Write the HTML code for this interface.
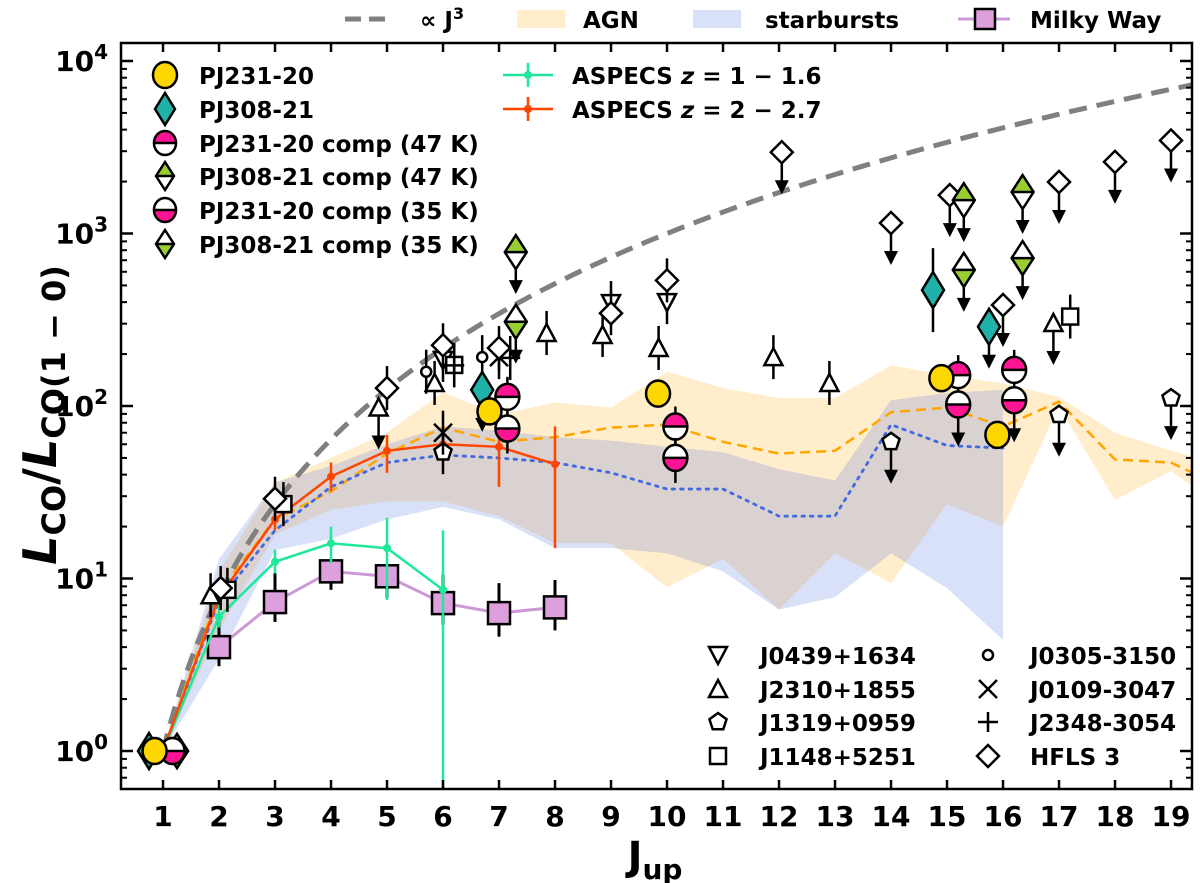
<!DOCTYPE html>
<html><head><meta charset="utf-8"><style>
body{margin:0;background:#fff}
svg{display:block;font-family:"DejaVu Sans","Liberation Sans",sans-serif;font-weight:bold}
</style></head><body>
<svg id="chart" width="1200" height="883" viewBox="0 0 1200 883" xmlns="http://www.w3.org/2000/svg">
<defs><clipPath id="pc"><rect x="121" y="43" width="1071" height="746"/></clipPath></defs>
<g id="plot" clip-path="url(#pc)"></g>
<g id="axes"></g>
<g id="legend"></g>
</svg>
<script>
// ---- data ----
const agnJ=[1,2,3,4,5,6,7,8,9,10,11,12,13,14,15,16,17,18,19,20];
const agnMed=[1,8.3,22,32,53,75,62,66,75,78,62,53,55,92,98,76,106,49,47,33];
const agnHi=[1,11,36,50,70,120,89,105,98,158,127,111,111,172,151,135,113,70,55,45];
const agnLo=[1,5,18,25,28,28,23,16,16,8.9,13,6.6,14,9.4,27,20,99,28.5,42,25];
const sbJ=[1,2,3,4,5,6,7,8,9,10,11,12,13,14,15,16];
const sbMed=[1,7.5,19,34,47,52,50,47,41,33,33,23,23,78,59,57];
const sbHi=[1,13,36,45,60,76,72,66,63,58,54,43,37,108,119,124];
const sbLo=[1,3.4,14.6,17,22,26,22,15,15,14,11,6.6,7.8,14,8.8,4.4];
const mwJ=[2,3,4,5,6,7,8];
const mwV=[4.0,7.3,11,10.3,7.2,6.3,6.8];
const mwLo=[3.1,5.6,8.6,7.7,5.4,4.6,5.0];
const mwHi=[5.7,10.7,12.5,12,10.5,9.4,9.8];
const asp1J=[1,2,3,4,5,6];
const asp1V=[1,6.0,12.5,16,15,8.6];
const asp1Lo=[1,5.2,10.7,12.3,7.5,0.1];
const asp1Hi=[1,7,14.7,20,22.5,19];
const asp2J=[1,2,3,4,5,6,7,8];
const asp2V=[1,7.8,22,39,55,60,58,46];
const asp2Lo=[1,7,19,32,41,52,34,15];
const asp2Hi=[1,8.6,26,47,68,68,86,76];
const pj231J=[0.85,6.83,9.84,14.9,15.9];
const pj231V=[1,93,118,145,68];
const pj308J=[0.75,6.7,14.75,15.75];
const pj308V=[1,124,470,288];
const pj308Lim=[0,1,0,1];
const c47J=[1.17,7.15,10.15,15.2,16.2];
const c47V=[1,113,76,151,162];
const c35J=[1.17,7.15,10.15,15.2,16.2];
const c35V=[1,74,50,102,108];
const c35Lim=[0,0,0,1,1];
const g47J=[1.25,7.3,15.3,16.35];
const g47V=[1,780,1560,1740];
const g35J=[1.25,7.3,15.3,16.35];
const g35V=[1,308,615,720];
const j0439J=[6.0,9.0,10.0];
const j0439V=[185,395,400];
const j2310J=[1.85,4.85,5.85,7.85,8.85,9.85,11.9,12.9,16.9];
const j2310V=[8,98,136,265,258,217,192,136,303];
const j2310Lim=[0,1,0,0,0,0,0,0,1];
const j1319J=[6.0,14.0,17.0,19.0];
const j1319V=[54,62,89,111];
const j1319Lim=[0,1,1,1];
const j1148J=[2.15,3.15,6.2,17.2];
const j1148V=[8.6,27,173,330];
const j0305J=[5.7,6.7];
const j0305V=[158,192];
const j0109J=[6.0,7.0];
const j0109V=[70,192];
const j2348J=[6.2,7.2];
const j2348V=[172,190];
const hflsJ=[2.03,3.0,5.0,6.0,7.0,9.0,10.0,12.05,14.0,15.05,16.0,17.0,18.0,19.0];
const hflsV=[8.8,29,127,225,217,345,535,2960,1150,1670,385,1990,2600,3460];
const hflsLim=[0,0,0,0,0,0,0,1,1,1,1,1,1,1];
const xTicks=[1,2,3,4,5,6,7,8,9,10,11,12,13,14,15,16,17,18,19];
const yTickExp=[0,1,2,3,4];

// ---- scales ----
const X0=121,X1=1192,Y0=43,Y1=789;
function xs(j){return 163+(j-1)*56;}
function ys(v){return 751-172.5*Math.log10(v);}
const NS="http://www.w3.org/2000/svg";
function mk(tag,at,par){const e=document.createElementNS(NS,tag);for(const k in at)e.setAttribute(k,at[k]);par.appendChild(e);return e;}
const P=document.getElementById('plot'),A=document.getElementById('axes'),L=document.getElementById('legend');

function band(js,lo,hi,fill,name){
  let d='M'+js.map((j,i)=>xs(j)+','+ys(hi[i])).join('L');
  for(let i=js.length-1;i>=0;i--)d+='L'+xs(js[i])+','+ys(lo[i]);
  const e=mk('path',{d:d+'Z',fill:fill,'fill-opacity':0.2,stroke:'none'},P);
  
  
}
function line(js,vs,st,name,par){
  const e=mk('path',Object.assign({d:'M'+js.map((j,i)=>xs(j)+','+ys(vs[i])).join('L'),fill:'none'},st),par||P);
  
  
  return e;
}
band(agnJ,agnLo,agnHi,'#ffa500','agn-band');
band(sbJ,sbLo,sbHi,'#4169e1','starburst-band');
line(agnJ,agnMed,{stroke:'#ffa500','stroke-width':2.5,'stroke-dasharray':'10 6'},'agn-median');
line(sbJ,sbMed,{stroke:'#4169e1','stroke-width':2.8,'stroke-dasharray':'2.5 6','stroke-linecap':'round'},'starburst-median');
// J^3 curve
const cj=[];for(let j=1;j<=19.6;j+=0.1)cj.push(j);
line(cj,cj.map(j=>j*j*j),{stroke:'#808080','stroke-width':5,'stroke-dasharray':'18 10'},'j-cubed-line');

function errs(js,vs,lo,hi,col,w,name){
  js.forEach((j,i)=>{const e=mk('line',{x1:xs(j),x2:xs(j),y1:ys(hi[i]),y2:ys(lo[i]),stroke:col,'stroke-width':w},P);
  
  });
}
// Milky Way
line(mwJ,mwV,{stroke:'#cc99d6','stroke-width':3},'milky-way-line');
errs(mwJ,mwV,mwLo,mwHi,'#000',3,'milky-way');
mwJ.forEach((j,i)=>{const e=mk('rect',{x:xs(j)-11,y:ys(mwV[i])-11,width:22,height:22,fill:'#dda0dd',stroke:'#000','stroke-width':2.5},P);

});
// ASPECS
function aspecs(js,vs,lo,hi,col,name){
  line(js,vs,{stroke:col,'stroke-width':2.5},name+'-line');
  errs(js,vs,lo,hi,col,2.5,name);
  js.forEach((j,i)=>{const e=mk('circle',{cx:xs(j),cy:ys(vs[i]),r:4,fill:col},P);
  
  });
}
aspecs(asp1J,asp1V,asp1Lo,asp1Hi,'#1ee89a','aspecs-z1');
aspecs(asp2J,asp2V,asp2Lo,asp2Hi,'#ff4500','aspecs-z2');

// marker drawing
function arrow(x,y,par){
  mk('line',{x1:x,y1:y,x2:x,y2:y+38,stroke:'#000','stroke-width':2.5},par);
  mk('path',{d:`M${x-7},${y+28}L${x+7},${y+28}L${x},${y+42}Z`,fill:'#000'},par);
}
function glyph(type,x,y,par,s){
  s=s||1;const st={fill:'#fff',stroke:'#000','stroke-width':2.5};
  if(type==='tdown')mk('path',Object.assign({d:`M${x-9*s},${y-8*s}L${x+9*s},${y-8*s}L${x},${y+9*s}Z`},st),par);
  else if(type==='tup')mk('path',Object.assign({d:`M${x-9*s},${y+8*s}L${x+9*s},${y+8*s}L${x},${y-9*s}Z`},st),par);
  else if(type==='pent'){let d='';for(let k=0;k<5;k++){const a=-Math.PI/2+k*2*Math.PI/5;d+=(k?'L':'M')+(x+9*s*Math.cos(a))+','+(y+9*s*Math.sin(a));}mk('path',Object.assign({d:d+'Z'},st),par);}
  else if(type==='sq')mk('rect',Object.assign({x:x-8*s,y:y-8*s,width:16*s,height:16*s},st),par);
  else if(type==='circ')mk('circle',Object.assign({cx:x,cy:y,r:5*s},st),par);
  else if(type==='x'){mk('path',{d:`M${x-9*s},${y-9*s}L${x+9*s},${y+9*s}M${x-9*s},${y+9*s}L${x+9*s},${y-9*s}`,stroke:'#000','stroke-width':2.5},par);}
  else if(type==='plus'){mk('path',{d:`M${x-10*s},${y}L${x+10*s},${y}M${x},${y-10*s}L${x},${y+10*s}`,stroke:'#000','stroke-width':2.5},par);}
  else if(type==='dia')mk('path',Object.assign({d:`M${x},${y-11*s}L${x+11*s},${y}L${x},${y+11*s}L${x-11*s},${y}Z`},st),par);
}
function openSeries(js,vs,lims,type,name){
  js.forEach((j,i)=>{const g=mk('g',{},P);
    
    
    const x=xs(j),y=ys(vs[i]);
    if(lims&&lims[i])arrow(x,y,g);
    else mk('line',{x1:x,x2:x,y1:y-22,y2:y+22,stroke:'#000','stroke-width':2.5},g);
    glyph(type,x,y,g);});
}
openSeries(j0439J,j0439V,null,'tdown','j0439');
openSeries(j2310J,j2310V,j2310Lim,'tup','j2310');
openSeries(j1319J,j1319V,j1319Lim,'pent','j1319');
openSeries(j1148J,j1148V,null,'sq','j1148');
openSeries(j0305J,j0305V,null,'circ','j0305');
openSeries(j0109J,j0109V,null,'x','j0109');
openSeries(j2348J,j2348V,null,'plus','j2348');
openSeries(hflsJ,hflsV,hflsLim,'dia','hfls3');

function halfCircle(x,y,top,par,r){
  r=r||13;
  mk('ellipse',{cx:x,cy:y,rx:r*0.92,ry:r,fill:'#fff'},par);
  mk('path',{d:top?`M${x-r*0.92},${y}A${r*0.92},${r} 0 0 1 ${x+r*0.92},${y}Z`:`M${x-r*0.92},${y}A${r*0.92},${r} 0 0 0 ${x+r*0.92},${y}Z`,fill:'#ff1493'},par);
  mk('ellipse',{cx:x,cy:y,rx:r*0.92,ry:r,fill:'none',stroke:'#000','stroke-width':2.5},par);
  mk('line',{x1:x-r*0.92,x2:x+r*0.92,y1:y,y2:y,stroke:'#000','stroke-width':2.5},par);
}
function halfDia(x,y,top,par,w,h){
  w=w||11;h=h||17;
  mk('path',{d:`M${x},${y-h}L${x+w},${y}L${x},${y+h}L${x-w},${y}Z`,fill:'#fff'},par);
  mk('path',{d:top?`M${x},${y-h}L${x+w},${y}L${x-w},${y}Z`:`M${x},${y+h}L${x+w},${y}L${x-w},${y}Z`,fill:'#9acd32'},par);
  mk('path',{d:`M${x},${y-h}L${x+w},${y}L${x},${y+h}L${x-w},${y}Z M${x-w},${y}L${x+w},${y}`,fill:'none',stroke:'#000','stroke-width':2.5},par);
}
g47J.forEach((j,i)=>{const g=mk('g',{},P);


if(i>0)arrow(xs(j),ys(g47V[i]),g);halfDia(xs(j),ys(g47V[i]),true,g);});
g35J.forEach((j,i)=>{const g=mk('g',{},P);


if(i>0)arrow(xs(j),ys(g35V[i]),g);halfDia(xs(j),ys(g35V[i]),false,g);});
pj308J.forEach((j,i)=>{const g=mk('g',{},P);


const x=xs(j),y=ys(pj308V[i]);
if(pj308Lim[i])arrow(x,y,g);else if(i>0)mk('line',{x1:x,x2:x,y1:y-42,y2:y+42,stroke:'#000','stroke-width':2.5},g);
mk('path',{d:`M${x},${y-18}L${x+11},${y}L${x},${y+18}L${x-11},${y}Z`,fill:'#20b2aa',stroke:'#000','stroke-width':2.5},g);});
c47J.forEach((j,i)=>{const g=mk('g',{},P);


const x=xs(j),y=ys(c47V[i]);if(i>0)mk('line',{x1:x,x2:x,y1:y-20,y2:y+20,stroke:'#000','stroke-width':2.5},g);halfCircle(x,y,true,g);});
c35J.forEach((j,i)=>{const g=mk('g',{},P);


const x=xs(j),y=ys(c35V[i]);if(c35Lim[i])arrow(x,y,g);else if(i>0)mk('line',{x1:x,x2:x,y1:y-20,y2:y+25,stroke:'#000','stroke-width':2.5},g);halfCircle(x,y,false,g);});
pj231J.forEach((j,i)=>{const e=mk('ellipse',{cx:xs(j),cy:ys(pj231V[i]),rx:12,ry:13,fill:'#ffd700',stroke:'#000','stroke-width':2.5},P);

});

// ---- axes ----
mk('rect',{x:X0,y:Y0,width:X1-X0,height:Y1-Y0,fill:'none',stroke:'#000','stroke-width':2.5},A);
xTicks.forEach(t=>{const x=xs(t);
  mk('line',{x1:x,x2:x,y1:Y1,y2:Y1-9,stroke:'#000','stroke-width':2.5},A);
  mk('line',{x1:x,x2:x,y1:Y0,y2:Y0+9,stroke:'#000','stroke-width':2.5},A);
  const tx=mk('text',{x:x,y:826,'text-anchor':'middle','font-size':28},A);tx.textContent=t;
  
  });
yTickExp.forEach(e=>{const y=ys(Math.pow(10,e));
  [X0,X1].forEach(xx=>{const d=xx===X0?1:-1;
    mk('line',{x1:xx,x2:xx+d*12,y1:y,y2:y,stroke:'#000','stroke-width':2.5},A);
    for(let m=2;m<10;m++){const ym=ys(m*Math.pow(10,e));if(ym>Y0&&ym<Y1)mk('line',{x1:xx,x2:xx+d*6,y1:ym,y2:ym,stroke:'#000','stroke-width':2},A);}
    for(let m=2;m<10;m++){const ym=ys(m*Math.pow(10,e-1));if(e===0&&ym>Y0&&ym<Y1)mk('line',{x1:xx,x2:xx+d*6,y1:ym,y2:ym,stroke:'#000','stroke-width':2},A);}
  });
  const tx=mk('text',{x:108,y:y+10,'text-anchor':'end','font-size':28},A);
  
  
  tx.innerHTML='10<tspan dy="-12" font-size="20">'+e+'</tspan>';});
const xl=mk('text',{x:655,y:870,'text-anchor':'middle','font-size':40},A);


xl.innerHTML='J<tspan dy="9" font-size="28">up</tspan>';
const yl=mk('text',{x:0,y:0,'text-anchor':'middle','font-size':46,transform:'translate(56,415) rotate(-90)'},A);


yl.innerHTML='<tspan font-style="italic">L</tspan><tspan dy="9" font-size="32">CO</tspan><tspan dy="-9">/</tspan><tspan font-style="italic">L</tspan><tspan dy="9" font-size="32">CO(1 − 0)</tspan>';

// ---- legends ----
function txt(x,y,s,name,size){const t=mk('text',{x:x,y:y,'font-size':size||23},L);t.innerHTML=s;

return t;}
// top
mk('line',{x1:345,x2:390,y1:19,y2:19,stroke:'#808080','stroke-width':5,'stroke-dasharray':'16 8'},L);
txt(420,28,'∝ J<tspan dy="-9" font-size="16">3</tspan>','legend-j3');
mk('rect',{x:517,y:10,width:48,height:18,fill:'#ffa500','fill-opacity':0.2},L);
txt(583,28,'AGN','legend-agn');
mk('rect',{x:693,y:10,width:48,height:18,fill:'#4169e1','fill-opacity':0.2},L);
txt(765,28,'starbursts','legend-starbursts');
mk('line',{x1:958,x2:1010,y1:19,y2:19,stroke:'#cc99d6','stroke-width':3},L);
mk('rect',{x:975,y:9,width:20,height:20,fill:'#dda0dd',stroke:'#000','stroke-width':2.5},L);
txt(1030,28,'Milky Way','legend-milky-way');
// top-left
const rows=[75,109,143,176,210,244];
mk('ellipse',{cx:165,cy:rows[0],rx:12,ry:13,fill:'#ffd700',stroke:'#000','stroke-width':2.5},L);
mk('path',{d:`M165,${rows[1]-16}L175,${rows[1]}L165,${rows[1]+16}L155,${rows[1]}Z`,fill:'#20b2aa',stroke:'#000','stroke-width':2.5},L);
halfCircle(165,rows[2],true,L,12);
halfDia(165,rows[3],true,L,9,14);
halfCircle(165,rows[4],false,L,12);
halfDia(165,rows[5],false,L,9,14);
['PJ231-20','PJ308-21','PJ231-20 comp (47 K)','PJ308-21 comp (47 K)','PJ231-20 comp (35 K)','PJ308-21 comp (35 K)'].forEach((s,i)=>txt(199,rows[i]+9,s,'legend-entry'));
[['#1ee89a','ASPECS <tspan font-style="italic">z</tspan> = 1 − 1.6'],['#ff4500','ASPECS <tspan font-style="italic">z</tspan> = 2 − 2.7']].forEach((a,i)=>{
  const y=rows[i];mk('line',{x1:503,x2:553,y1:y,y2:y,stroke:a[0],'stroke-width':2.5},L);
  mk('line',{x1:528,x2:528,y1:y-12,y2:y+12,stroke:a[0],'stroke-width':2.5},L);
  mk('circle',{cx:528,cy:y,r:4,fill:a[0]},L);txt(572,y+9,a[1],'legend-entry');});
// bottom-right
const br=[655,689,722,756];
[['tdown','J0439+1634'],['tup','J2310+1855'],['pent','J1319+0959'],['sq','J1148+5251']].forEach((a,i)=>{glyph(a[0],718,br[i],L);txt(760,br[i]+9,a[1],'legend-entry');});
[['circ','J0305-3150'],['x','J0109-3047'],['plus','J2348-3054'],['dia','HFLS 3']].forEach((a,i)=>{glyph(a[0],988,br[i],L);txt(1030,br[i]+9,a[1],'legend-entry');});
</script>
</body></html>
